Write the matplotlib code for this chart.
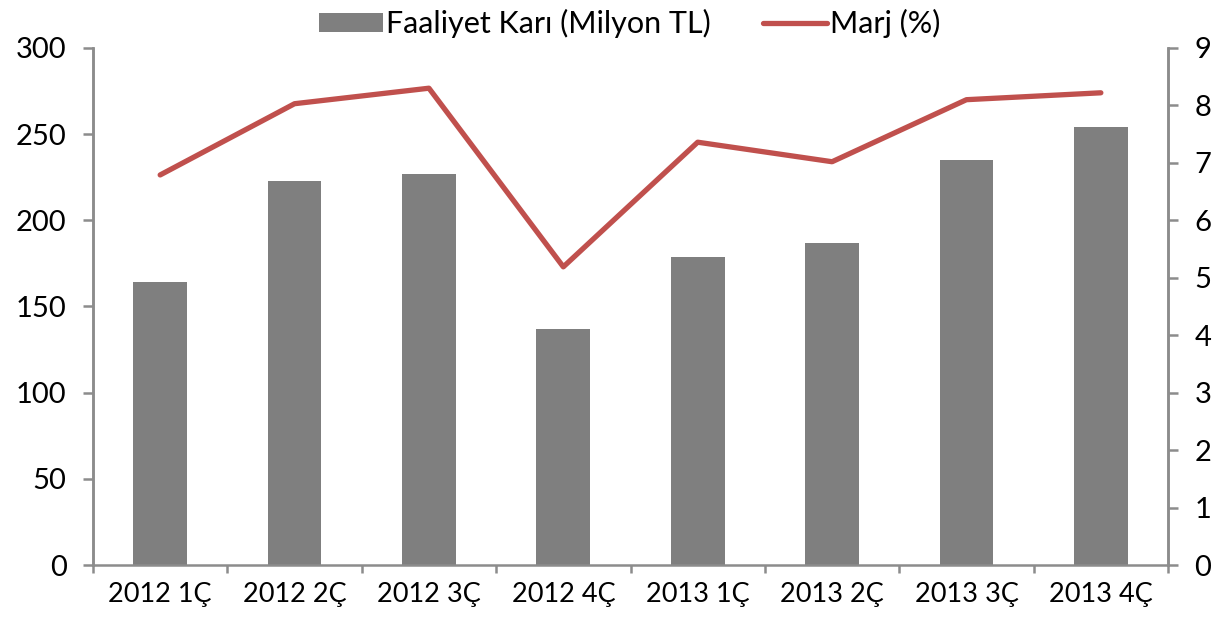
import matplotlib
matplotlib.use('Agg')
import matplotlib.pyplot as plt
import numpy as np

# data
quarters = ['2012 1Ç', '2012 2Ç', '2012 3Ç', '2012 4Ç',
            '2013 1Ç', '2013 2Ç', '2013 3Ç', '2013 4Ç']
op_profit = [164, 223, 227, 137, 179, 187, 235, 254]
margin = [6.79, 8.03, 8.30, 5.19, 7.36, 7.02, 8.10, 8.22]

plt.rcParams['font.family'] = ['Lato', 'DejaVu Sans']
axis_grey = '#8c8c8c'

fig = plt.figure(figsize=(12.25, 6.2), dpi=100)
ax = fig.add_axes([0.0759, 0.0887, 0.8776, 0.8339])
ax2 = ax.twinx()

x = np.arange(len(quarters))
bars = ax.bar(x, op_profit, width=0.4, color='#7f7f7f', label='Faaliyet Karı (Milyon TL)', zorder=2)
line, = ax2.plot(x, margin, color='#c0504d', lw=3.8, label='Marj (%)', solid_capstyle='round', zorder=3)

ax.set_xlim(-0.5, len(quarters) - 0.5)
ax.set_ylim(0, 300)
ax.set_yticks(range(0, 301, 50))
ax2.set_ylim(0, 9)
ax2.set_yticks(range(0, 10))

# category ticks at boundaries, labels centred
ax.set_xticks(np.arange(-0.5, len(quarters)), minor=False)
ax.set_xticklabels([])
ax.set_xticks(x, minor=True)
ax.set_xticklabels(quarters, minor=True, fontsize=19.5)
ax.tick_params(axis='x', which='minor', length=0, pad=12)
ax.tick_params(axis='x', which='major', length=6, width=1.8, color=axis_grey, direction='out')

ax.tick_params(axis='y', labelsize=21, length=7, width=1.8, color=axis_grey, pad=12)
ax2.tick_params(axis='y', labelsize=21, length=7, width=1.8, color=axis_grey, pad=12)

for a in (ax, ax2):
    a.spines['top'].set_visible(False)
    for s in ('left', 'right', 'bottom'):
        a.spines[s].set_color(axis_grey)
        a.spines[s].set_linewidth(1.8)
ax2.spines['bottom'].set_visible(False)

fig.legend(handles=[bars, line], loc='upper center', bbox_to_anchor=(0.514, 1.03), ncol=2,
           frameon=False, fontsize=22, handlelength=2.1, handleheight=0.6,
           handletextpad=0.1, columnspacing=1.7)

fig.savefig('out.png', dpi=100)
